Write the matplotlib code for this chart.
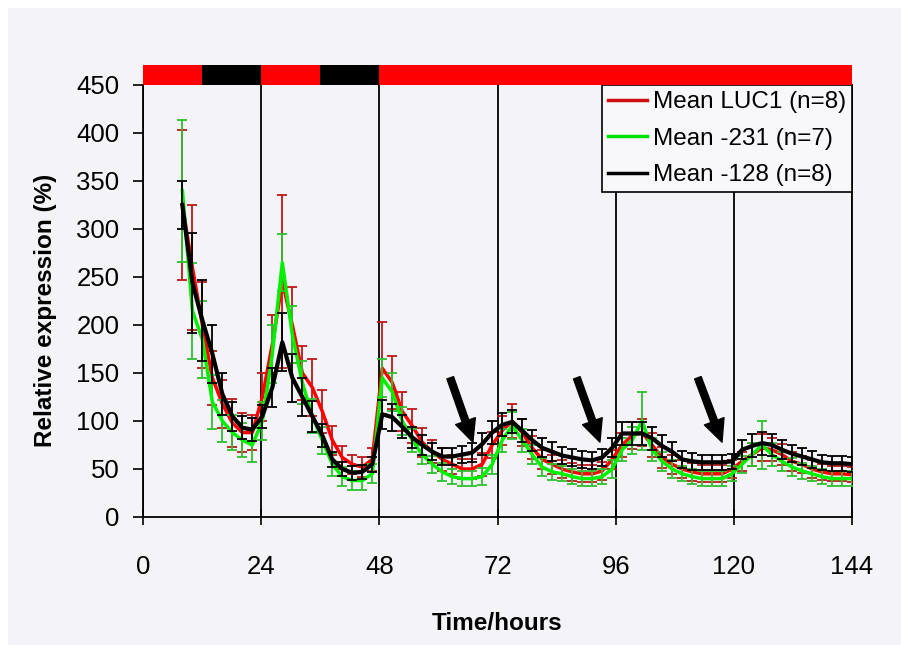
import numpy as np
import matplotlib
matplotlib.use("Agg")
import matplotlib.pyplot as plt
from matplotlib.patches import Rectangle
from matplotlib.lines import Line2D

plt.rcParams['font.family'] = ['Liberation Sans', 'DejaVu Sans']

# ---------------- data ----------------
time_h = np.linspace(8, 144, 68)

luc1_mean = [325, 260, 200, 145, 118, 98, 88, 88, 125, 180,
             245, 200, 150, 135, 110, 80, 62, 55, 52, 60,
             155, 140, 110, 95, 78, 68, 60, 55, 50, 50,
             55, 75, 90, 100, 88, 72, 60, 55, 50, 47,
             45, 45, 48, 60, 75, 85, 88, 75, 62, 55,
             50, 47, 45, 45, 45, 50, 58, 65, 72, 70,
             65, 58, 55, 50, 47, 45, 45, 44]
luc1_err = [78, 65, 45, 28, 25, 25, 20, 18, 25, 30,
            90, 40, 28, 30, 22, 15, 12, 10, 10, 12,
            48, 28, 20, 18, 15, 12, 12, 10, 10, 10,
            12, 14, 15, 18, 14, 12, 10, 10, 9, 9,
            9, 9, 9, 10, 12, 14, 14, 12, 11, 10,
            9, 9, 9, 9, 9, 9, 10, 12, 14, 12,
            11, 10, 9, 9, 8, 8, 8, 8]

m231_mean = [340, 215, 185, 120, 100, 88, 80, 75, 100, 170,
             265, 190, 140, 105, 80, 55, 42, 38, 38, 45,
             145, 130, 100, 80, 65, 55, 47, 42, 40, 40,
             42, 55, 80, 95, 80, 65, 52, 47, 45, 42,
             40, 40, 42, 50, 70, 80, 100, 70, 58, 50,
             45, 42, 40, 40, 40, 45, 55, 65, 75, 65,
             58, 52, 48, 45, 42, 40, 40, 40]
m231_err = [74, 50, 40, 28, 22, 18, 18, 18, 20, 30,
            30, 30, 22, 18, 14, 12, 10, 10, 10, 10,
            20, 20, 15, 12, 10, 9, 9, 8, 8, 8,
            9, 10, 12, 14, 12, 10, 9, 8, 8, 8,
            8, 8, 8, 9, 12, 14, 30, 12, 10, 9,
            8, 8, 8, 8, 8, 8, 9, 12, 25, 12,
            10, 9, 8, 8, 8, 8, 8, 8]

m128_mean = [325, 244, 205, 170, 128, 105, 93, 91, 105, 135,
             182, 145, 125, 105, 85, 60, 50, 46, 47, 55,
             107, 104, 94, 83, 75, 68, 63, 63, 65, 67,
             76, 88, 96, 99, 90, 80, 72, 68, 64, 62,
             60, 59, 62, 72, 87, 87, 87, 82, 74, 68,
             60, 58, 57, 57, 57, 58, 70, 74, 77, 75,
             70, 66, 63, 60, 57, 56, 56, 55]
m128_err = [25, 52, 42, 30, 22, 15, 12, 12, 12, 20,
            30, 25, 20, 16, 12, 8, 7, 7, 7, 8,
            15, 14, 12, 11, 10, 9, 9, 9, 9, 10,
            11, 12, 12, 12, 12, 11, 10, 10, 9, 9,
            9, 9, 9, 10, 12, 12, 12, 12, 11, 10,
            9, 9, 8, 8, 8, 8, 10, 12, 12, 11,
            10, 9, 9, 9, 8, 8, 8, 8]

series_labels = ["Mean LUC1 (n=8)", "Mean -231 (n=7)", "Mean -128 (n=8)"]

# light/dark bar
period_start = [0, 12, 24, 36, 48]
period_len = [12, 12, 12, 12, 96]
period_color = ['#ff0000', '#000000', '#ff0000', '#000000', '#ff0000']

# arrows (tail time, tail value, head time, head value)
arrow_tail_t = [62.4, 88.1, 112.7]
arrow_tail_v = [145, 145, 145]
arrow_head_t = [67.0, 92.8, 117.6]
arrow_head_v = [78, 78, 78]

x_ticks = [0, 24, 48, 72, 96, 120, 144]
y_ticks = [0, 50, 100, 150, 200, 250, 300, 350, 400, 450]

# ---------------- figure ----------------
BG = '#f3f3f8'
fig = plt.figure(figsize=(9.01, 6.45), dpi=100, facecolor='white')
fig.patches.append(Rectangle((8/901, 0), 1, 1 - 8/645, transform=fig.transFigure,
                             facecolor=BG, edgecolor='none', zorder=-10))

L, R = 143/901, 852/901
B, T = (645-517)/645, (645-85)/645
ax = fig.add_axes([L, B, R-L, T-B])
ax.set_facecolor(BG)

line_colors = ['#ff0000', '#00f000', '#000000']
err_colors = ['#c01818', '#30c030', '#000000']
line_widths = [2.5, 2.5, 3.0]

for i, (m, e) in enumerate([(luc1_mean, luc1_err), (m231_mean, m231_err),
                            (m128_mean, m128_err)]):
    ax.errorbar(time_h, m, yerr=e, color=line_colors[i], ecolor=err_colors[i],
                lw=line_widths[i], elinewidth=1.3, capsize=3.5, capthick=1.3,
                zorder=3 + i)

for tt, tv, ht, hv in zip(arrow_tail_t, arrow_tail_v, arrow_head_t, arrow_head_v):
    ax.annotate('', xy=(ht, hv), xytext=(tt, tv),
                arrowprops=dict(facecolor='black', edgecolor='black',
                                width=5, headwidth=15, headlength=16, shrink=0),
                zorder=6)

ax.set_xlim(0, 144)
ax.set_ylim(0, 450)
ax.set_xticks(x_ticks)
ax.set_yticks(y_ticks)
ax.grid(axis='x', color='black', lw=1.3, zorder=1)
ax.grid(axis='y', visible=False)
for s in ['left', 'bottom', 'right']:
    ax.spines[s].set_color('black')
    ax.spines[s].set_linewidth(1.3)
ax.spines['top'].set_visible(False)

ax.tick_params(axis='x', direction='inout', length=12, width=1.2, pad=21,
               labelsize=18.5, colors='black')
ax.tick_params(axis='y', direction='out', length=7, width=1.2, pad=10,
               labelsize=18.5, colors='black')

ax.set_xlabel('Time/hours', fontsize=17.5, fontweight='bold')
ax.xaxis.set_label_coords((497-143)/(852-143), -(612-517)/(517-85))
ax.set_ylabel('Relative expression (%)', fontsize=17.5, fontweight='bold')
ax.yaxis.set_label_coords(-(143-57)/(852-143), (517-310)/(517-85))

legend_handle_colors = ['#d01010', '#00e000', '#000000']
handles = [Line2D([], [], color=c, lw=2.5) for c in legend_handle_colors]
leg = ax.legend(handles, series_labels, loc='upper right',
                bbox_to_anchor=(1.0, 1.0), borderaxespad=0,
                fontsize=17.5, frameon=True, fancybox=False, framealpha=1,
                edgecolor='black', facecolor='#f8f8fb', handlelength=1.6,
                handletextpad=0.25, labelspacing=0.6, borderpad=0.25)
leg.get_frame().set_linewidth(1.2)
leg.set_zorder(10)

# light/dark bar
axb = fig.add_axes([L, T, R-L, 20/645])
axb.barh([0], period_len, left=period_start, height=1, color=period_color)
axb.set_xlim(0, 144)
axb.set_ylim(-0.5, 0.5)
axb.axis('off')

fig.savefig('out.png', dpi=100, facecolor=fig.get_facecolor())
